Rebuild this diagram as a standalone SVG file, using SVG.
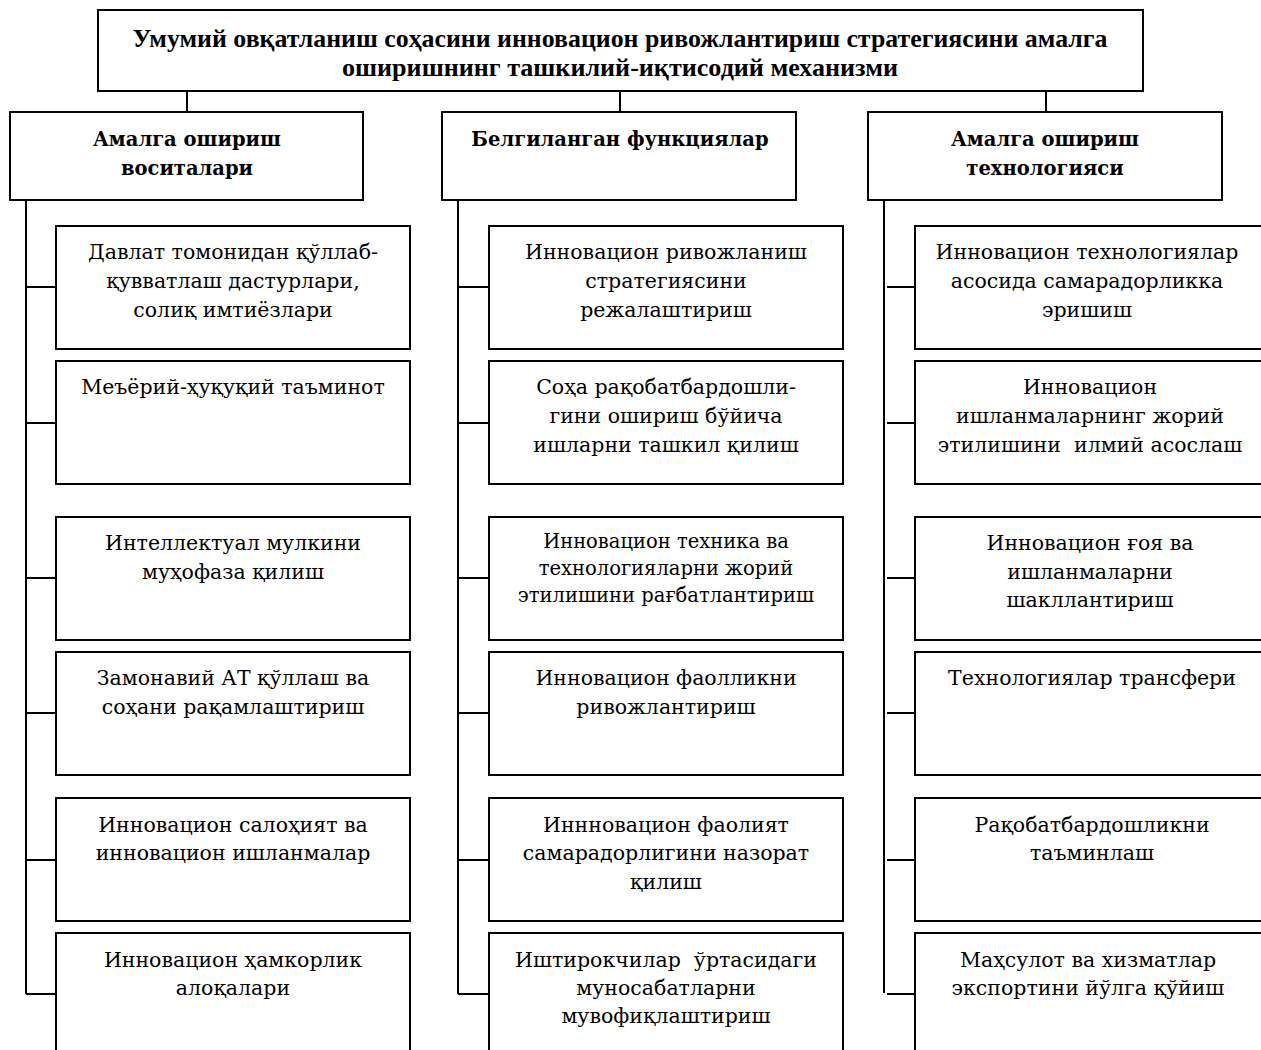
<svg xmlns="http://www.w3.org/2000/svg" width="1261" height="1050" viewBox="0 0 1261 1050">
<style>
.box{fill:#fff;stroke:#000;stroke-width:2}
.ln{stroke:#000;stroke-width:2;fill:none}
.t{font-family:"DejaVu Serif","Liberation Serif",serif;font-size:20.5px;fill:#000;text-anchor:middle}
.s{font-size:19.5px}
.h{font-family:"DejaVu Serif","Liberation Serif",serif;font-size:19.5px;font-weight:bold;fill:#000;text-anchor:middle}
.ti{font-family:"Liberation Serif",serif;font-size:25px;font-weight:bold;fill:#000;text-anchor:middle}
</style>
<rect width="1261" height="1050" fill="#fff"/>
<g id="connectors">
<path class="ln" d="M187 91V112M620 91V112M1046 91V112"/>
<path class="ln" d="M26 200V994M458 200V994M884 200V993"/>
<path class="ln" d="M26 287H56M26 423H56M26 578H56M26 713H56M26 860H56M26 994H56"/>
<path class="ln" d="M458 287H489M458 423H489M458 578H489M458 713H489M458 860H489M458 994H489"/>
<path class="ln" d="M887 287H915M887 423H915M887 578H915M887 713H915M887 860H915M887 994H915"/>
</g>
<g id="title">
<rect class="box" x="98" y="10" width="1045" height="81"/>
<text class="ti" x="620" y="47" textLength="975" lengthAdjust="spacingAndGlyphs">Умумий овқатланиш соҳасини инновацион ривожлантириш стратегиясини амалга</text>
<text class="ti" x="620" y="76" textLength="556" lengthAdjust="spacingAndGlyphs">оширишнинг ташкилий-иқтисодий механизми</text>
</g>
<g id="h1"><rect class="box" x="10" y="112" width="353" height="88"/>
<text class="h" x="187" y="146">Амалга ошириш</text><text class="h" x="187" y="175">воситалари</text></g>
<g id="h2"><rect class="box" x="442" y="112" width="354" height="88"/>
<text class="h" x="620" y="146">Белгиланган функциялар</text></g>
<g id="h3"><rect class="box" x="868" y="112" width="354" height="88"/>
<text class="h" x="1045" y="146">Амалга ошириш</text><text class="h" x="1045" y="175">технологияси</text></g>

<g id="l1"><rect class="box" x="56" y="226" width="354" height="123"/>
<text class="t" x="233" y="259">Давлат томонидан қўллаб-</text><text class="t" x="233" y="288">қувватлаш дастурлари,</text><text class="t" x="233" y="317">солиқ имтиёзлари</text></g>
<g id="l2"><rect class="box" x="56" y="361" width="354" height="123"/>
<text class="t" x="233" y="394">Меъёрий-ҳуқуқий таъминот</text></g>
<g id="l3"><rect class="box" x="56" y="517" width="354" height="123"/>
<text class="t" x="233" y="550">Интеллектуал мулкини</text><text class="t" x="233" y="579">муҳофаза қилиш</text></g>
<g id="l4"><rect class="box" x="56" y="652" width="354" height="123"/>
<text class="t" x="233" y="685">Замонавий АТ қўллаш ва</text><text class="t" x="233" y="714">соҳани рақамлаштириш</text></g>
<g id="l5"><rect class="box" x="56" y="798" width="354" height="123"/>
<text class="t" x="233" y="832">Инновацион салоҳият ва</text><text class="t" x="233" y="860">инновацион ишланмалар</text></g>
<g id="l6"><rect class="box" x="56" y="933" width="354" height="130"/>
<text class="t" x="233" y="967">Инновацион ҳамкорлик</text><text class="t" x="233" y="995">алоқалари</text></g>

<g id="m1"><rect class="box" x="489" y="226" width="354" height="123"/>
<text class="t" x="666" y="259">Инновацион ривожланиш</text><text class="t" x="666" y="288">стратегиясини</text><text class="t" x="666" y="317">режалаштириш</text></g>
<g id="m2"><rect class="box" x="489" y="361" width="354" height="123"/>
<text class="t" x="666" y="394">Соҳа рақобатбардошли-</text><text class="t" x="666" y="423">гини ошириш бўйича</text><text class="t" x="666" y="452">ишларни ташкил қилиш</text></g>
<g id="m3"><rect class="box" x="489" y="517" width="354" height="123"/>
<text class="t s" x="666" y="548">Инновацион техника ва</text><text class="t s" x="666" y="575">технологияларни жорий</text><text class="t s" x="666" y="602">этилишини рағбатлантириш</text></g>
<g id="m4"><rect class="box" x="489" y="652" width="354" height="123"/>
<text class="t" x="666" y="685">Инновацион фаолликни</text><text class="t" x="666" y="714">ривожлантириш</text></g>
<g id="m5"><rect class="box" x="489" y="798" width="354" height="123"/>
<text class="t" x="666" y="832">Иннновацион фаолият</text><text class="t" x="666" y="860">самарадорлигини назорат</text><text class="t" x="666" y="889">қилиш</text></g>
<g id="m6"><rect class="box" x="489" y="933" width="354" height="130"/>
<text class="t" x="666" y="967" xml:space="preserve">Иштирокчилар  ўртасидаги</text><text class="t" x="666" y="995">муносабатларни</text><text class="t" x="666" y="1023">мувофиқлаштириш</text></g>

<g id="r1"><rect class="box" x="915" y="226" width="354" height="123"/>
<text class="t" x="1087" y="259">Инновацион технологиялар</text><text class="t" x="1087" y="288">асосида самарадорликка</text><text class="t" x="1087" y="317">эришиш</text></g>
<g id="r2"><rect class="box" x="915" y="361" width="354" height="123"/>
<text class="t" x="1090" y="394">Инновацион</text><text class="t" x="1090" y="423">ишланмаларнинг жорий</text><text class="t" x="1090" y="452" xml:space="preserve">этилишини  илмий асослаш</text></g>
<g id="r3"><rect class="box" x="915" y="517" width="354" height="123"/>
<text class="t" x="1090" y="550">Инновацион ғоя ва</text><text class="t" x="1090" y="579">ишланмаларни</text><text class="t" x="1090" y="607">шакллантириш</text></g>
<g id="r4"><rect class="box" x="915" y="652" width="354" height="123"/>
<text class="t" x="1092" y="685">Технологиялар трансфери</text></g>
<g id="r5"><rect class="box" x="915" y="798" width="354" height="123"/>
<text class="t" x="1092" y="832">Рақобатбардошликни</text><text class="t" x="1092" y="860">таъминлаш</text></g>
<g id="r6"><rect class="box" x="915" y="933" width="354" height="130"/>
<text class="t" x="1088" y="967">Маҳсулот ва хизматлар</text><text class="t" x="1088" y="995">экспортини йўлга қўйиш</text></g>
</svg>
